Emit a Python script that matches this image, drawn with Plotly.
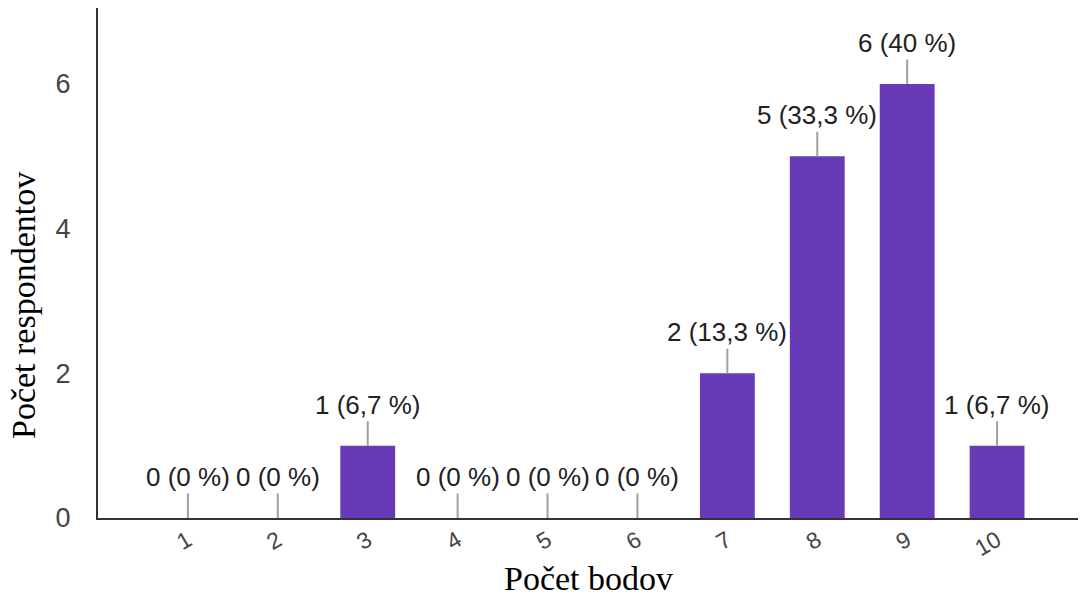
import plotly.graph_objects as go

categories = [1, 2, 3, 4, 5, 6, 7, 8, 9, 10]
counts = [0, 0, 1, 0, 0, 0, 2, 5, 6, 1]
percent_labels = ["0 %", "0 %", "6,7 %", "0 %", "0 %", "0 %", "13,3 %", "33,3 %", "40 %", "6,7 %"]
y_ticks = [0, 2, 4, 6]
x_title = "Počet bodov"
y_title = "Počet respondentov"

BAR = "#673ab7"
L, R, T, B = 98, 3, 8, 79
W, H = 1081, 597
pw, ph = W - L - R, H - T - B

fig = go.Figure()
fig.add_trace(go.Bar(
    x=categories, y=counts, width=0.61,
    marker=dict(color=BAR, line=dict(width=0)),
    hoverinfo="skip",
))

annotations = []
for c, v, p in zip(categories, counts, percent_labels):
    annotations.append(dict(
        x=c, y=v, xref="x", yref="y",
        text=f"{v} ({p})",
        showarrow=True, arrowhead=0, arrowwidth=2, arrowcolor="#a0a0a0",
        ax=0, ay=-41, standoff=0,
        font=dict(family="Liberation Sans, Arial", size=26, color="#212121"),
    ))
annotations.append(dict(
    x=0.5, y=-60 / ph, xref="paper", yref="paper",
    xanchor="center", yanchor="middle",
    text=x_title, showarrow=False,
    font=dict(family="Liberation Serif, Times New Roman", size=34, color="#000000"),
))
annotations.append(dict(
    x=(24 - L) / pw, y=(H - B - 306) / ph, xref="paper", yref="paper",
    xanchor="center", yanchor="middle",
    text=y_title, showarrow=False, textangle=-90,
    font=dict(family="Liberation Serif, Times New Roman", size=34, color="#000000"),
))

fig.update_layout(
    width=W, height=H,
    margin=dict(l=L, r=R, t=T, b=B, pad=0),
    paper_bgcolor="white", plot_bgcolor="white",
    showlegend=False,
    annotations=annotations,
    xaxis=dict(
        range=[0, 10.9], tickmode="array", tickvals=categories,
        ticktext=[str(c) for c in categories], tickangle=-30,
        showgrid=False, zeroline=False, showline=True, linecolor="#333333", linewidth=2,
        ticks="", ticklabelstandoff=-2,
        tickfont=dict(family="Liberation Sans, Arial", size=23, color="#444444"),
    ),
    yaxis=dict(
        range=[0, 7.05], tickmode="array", tickvals=y_ticks,
        showgrid=False, zeroline=False, showline=True, linecolor="#333333", linewidth=2,
        ticks="", ticklabelstandoff=20,
        tickfont=dict(family="Liberation Sans, Arial", size=27, color="#444444"),
    ),
)

fig.write_html(
    "out.html",
    config={"displayModeBar": False},
    post_script="document.body.style.margin='0';document.body.style.overflow='hidden';",
)
